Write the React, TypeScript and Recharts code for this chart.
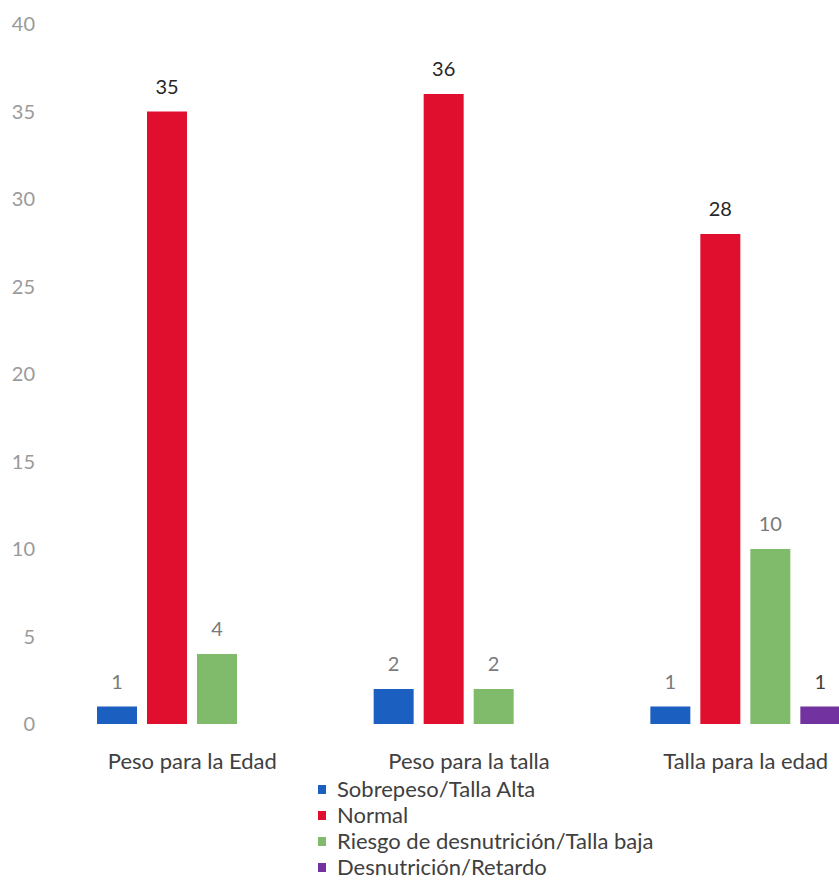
import { BarChart, Bar, XAxis, YAxis, Legend, LabelList } from "recharts";

const categories = ["Peso para la Edad", "Peso para la talla", "Talla para la edad"];
const sobrepeso = [1, 2, 1];
const normal = [35, 36, 28];
const riesgo = [4, 2, 10];
const desnutricion = [null, null, 1];
const yTicks = [0, 5, 10, 15, 20, 25, 30, 35, 40];

const series = [
  { key: "sobrepeso", name: "Sobrepeso/Talla Alta", color: "#1b5fc0", label: "#7a7a7a" },
  { key: "normal", name: "Normal", color: "#e00f2d", label: "#262626" },
  { key: "riesgo", name: "Riesgo de desnutrición/Talla baja", color: "#80bb6b", label: "#7a7a7a" },
  { key: "desnutricion", name: "Desnutrición/Retardo", color: "#7232a0", label: "#404040" },
];

const data = categories.map((c, i) => ({
  category: c,
  sobrepeso: sobrepeso[i],
  normal: normal[i],
  riesgo: riesgo[i],
  desnutricion: desnutricion[i],
}));

const FONT = "Lato, 'Open Sans', sans-serif";

function LegendList() {
  return (
    <ul style={{ listStyle: "none", margin: 0, padding: 0, fontFamily: FONT, fontSize: 22, color: "#404040" }}>
      {series.map((s) => (
        <li key={s.key} style={{ height: 26, lineHeight: "26px", whiteSpace: "nowrap" }}>
          <span
            style={{
              display: "inline-block",
              width: 8,
              height: 9,
              background: s.color,
              marginRight: 11,
              verticalAlign: "middle",
              position: "relative",
              top: -2,
            }}
          />
          {s.name}
        </li>
      ))}
    </ul>
  );
}

export default function App() {
  return (
    <div style={{ position: "absolute", left: 0, top: 0, width: 839, height: 882, overflow: "hidden", background: "#fff" }}>
      <BarChart
        width={900}
        height={900}
        data={data}
        margin={{ top: 24, right: 16, left: 0, bottom: 20 }}
        barSize={40}
        barGap={10}
      >
        <XAxis
          dataKey="category"
          axisLine={false}
          tickLine={false}
          height={52}
          tickMargin={23}
          tick={{ fontSize: 22, fill: "#404040", fontFamily: FONT }}
        />
        <YAxis
          domain={[0, 40]}
          ticks={yTicks}
          width={54}
          axisLine={false}
          tickLine={false}
          tickMargin={13}
          tick={{ fontSize: 20, fill: "#9a9a9a", fontFamily: FONT }}
        />
        <Legend
          verticalAlign="bottom"
          align="left"
          layout="horizontal"
          wrapperStyle={{ left: 318, width: 440 }}
          content={() => <LegendList />}
        />
        {series.map((s) => (
          <Bar key={s.key} dataKey={s.key} name={s.name} fill={s.color} isAnimationActive={false}>
            <LabelList
              dataKey={s.key}
              position="top"
              offset={18}
              style={{ fontSize: 20, fill: s.label, fontFamily: FONT }}
            />
          </Bar>
        ))}
      </BarChart>
    </div>
  );
}
